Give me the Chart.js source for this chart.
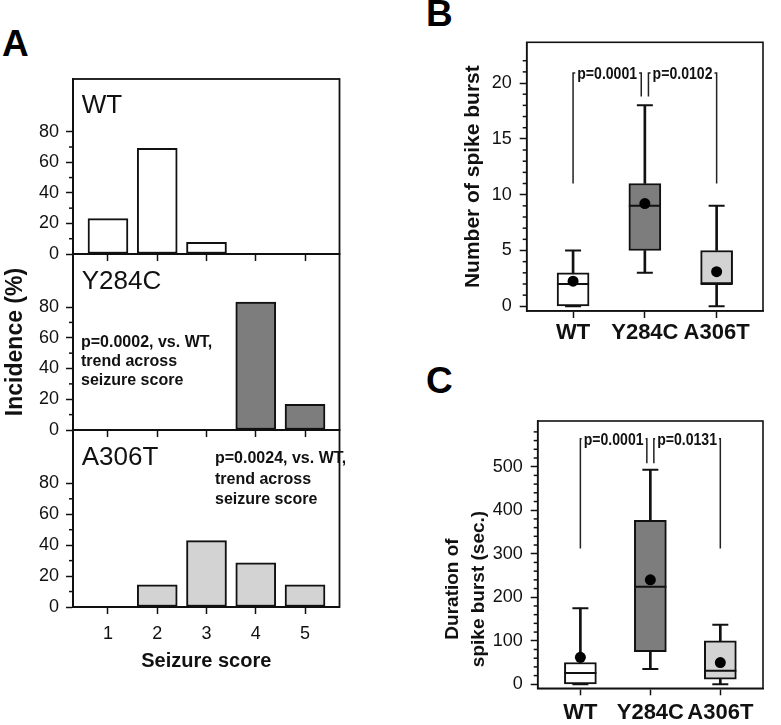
<!DOCTYPE html>
<html><head><meta charset="utf-8">
<script src="https://cdn.jsdelivr.net/npm/chart.js@4.4.0/dist/chart.umd.min.js"></script>
<style>
body{margin:0;background:#fff;width:781px;height:725px;position:relative;overflow:hidden;font-family:"Liberation Sans",Arial,sans-serif}
canvas{position:absolute}
.lbl{position:absolute;font-weight:bold;font-size:37px;line-height:37px;color:#000;font-family:"Liberation Sans",Arial,sans-serif}
</style></head><body>
<div class="lbl" style="left:2px;top:25px">A</div>
<div class="lbl" style="left:426px;top:-5px">B</div>
<div class="lbl" style="left:426px;top:362px">C</div>
<canvas id="cA1" width="345" height="262" style="left:0;top:0"></canvas>
<canvas id="cA2" width="345" height="438" style="left:0;top:0"></canvas>
<canvas id="cA3" width="345" height="680" style="left:0;top:0"></canvas>
<canvas id="cB" width="341" height="350" style="left:440px;top:0"></canvas>
<canvas id="cC" width="341" height="365" style="left:440px;top:360px"></canvas>
<script>
// ---------- data ----------
const scores = [1, 2, 3, 4, 5];
const wtIncidence = [23.1, 69.2, 7.7, 0, 0];
const y284cIncidence = [0, 0, 0, 83.3, 16.7];
const a306tIncidence = [0, 14.3, 42.9, 28.6, 14.3];
const incidenceTicks = [0, 20, 40, 60, 80];
const incidenceMinor = [10, 30, 50, 70];

const groups = ['WT', 'Y284C', 'A306T'];
const groupColors = ['#ffffff', '#7d7d7d', '#d3d3d3'];

const burstMin = [0, 3, 0];
const burstQ1 = [0, 5, 2];
const burstMedian = [2, 9, 2];
const burstQ3 = [3, 11, 5];
const burstMax = [5, 18, 9];
const burstMean = [2.25, 9.2, 3.1];
const burstTicks = [0, 5, 10, 15, 20];
const burstMinor = [1,2,3,4,6,7,8,9,11,12,13,14,16,17,18,19,21,22];
const burstPairs = [[0, 1], [1, 2]];
const burstP = ['p=0.0001', 'p=0.0102'];
const burstBracketTop = 20.9;
const burstBracketEnds = [[11, 18.8], [18.8, 11]];

const durMin = [0, 35, 0];
const durQ1 = [0, 75, 12];
const durMedian = [26, 224, 31];
const durQ3 = [50, 377, 100];
const durMax = [175, 493, 137];
const durMean = [62, 240, 50];
const durTicks = [0, 100, 200, 300, 400, 500];
const durMinor = [20,40,60,80,120,140,160,180,220,240,260,280,320,340,360,380,420,440,460,480,520,540,560,580];
const durPairs = [[0, 1], [1, 2]];
const durP = ['p=0.0001', 'p=0.0131'];
const durBracketTop = 564;
const durBracketEnds = [[312, 508], [508, 312]];

// ---------- helpers / plugins ----------
const FAM = '"Liberation Sans", Arial, sans-serif';
Chart.defaults.font.family = FAM;
Chart.defaults.color = '#111';
const INK = '#111';

function drawText(ctx, text, x, y, font, align, baseline, sx, rot) {
  ctx.save();
  ctx.font = font; ctx.fillStyle = INK; ctx.textAlign = align; ctx.textBaseline = baseline;
  ctx.translate(x, y);
  if (rot) ctx.rotate(rot);
  ctx.scale(sx || 1, 1);
  ctx.fillText(text, 0, 0);
  ctx.restore();
}

const framePlugin = {
  id: 'frame',
  afterDraw(chart, args, o) {
    const {ctx, chartArea: a} = chart;
    ctx.save(); ctx.strokeStyle = INK; ctx.lineWidth = o.width || 1.8;
    ctx.strokeRect(a.left, a.top, a.right - a.left, a.bottom - a.top);
    ctx.restore();
  }
};
const minorPlugin = {
  id: 'minorTicks',
  afterDraw(chart, args, o) {
    if (!o.values) return;
    const y = chart.scales.y, a = chart.chartArea, ctx = chart.ctx;
    ctx.save(); ctx.strokeStyle = INK; ctx.lineWidth = 1.5;
    o.values.forEach(v => {
      const py = y.getPixelForValue(v);
      ctx.beginPath(); ctx.moveTo(a.left - (o.length || 4), py); ctx.lineTo(a.left, py); ctx.stroke();
    });
    ctx.restore();
  }
};
const annotPlugin = {
  id: 'annot',
  afterDraw(chart, args, o) {
    if (!o.items) return;
    const a = chart.chartArea, ctx = chart.ctx;
    o.items.forEach(it => drawText(ctx, it.text, a.left + it.dx, a.top + it.dy, it.font,
      it.align || 'left', it.baseline || 'alphabetic', it.sx || 1, it.rot || 0));
  }
};
const bracketPlugin = {
  id: 'brackets',
  afterDraw(chart, args, o) {
    if (!o.pairs) return;
    const xs = chart.scales.x, ys = chart.scales.y, ctx = chart.ctx;
    const font = 'bold 16px ' + FAM, sx = 0.88;
    ctx.save(); ctx.strokeStyle = '#222'; ctx.lineWidth = 1.5;
    o.pairs.forEach((p, i) => {
      const off = o.offsets[i];
      const x1 = xs.getPixelForValue(p[0] + off[0]), x2 = xs.getPixelForValue(p[1] + off[1]);
      const yt = ys.getPixelForValue(o.top);
      const y1 = ys.getPixelForValue(o.ends[i][0]), y2 = ys.getPixelForValue(o.ends[i][1]);
      ctx.font = font;
      const w = ctx.measureText(o.texts[i]).width * sx;
      const cx = (x1 + x2) / 2;
      ctx.beginPath();
      ctx.moveTo(x1, y1); ctx.lineTo(x1, yt); ctx.lineTo(cx - w / 2 - 2, yt);
      ctx.moveTo(cx + w / 2 + 2, yt); ctx.lineTo(x2, yt); ctx.lineTo(x2, y2);
      ctx.stroke();
      drawText(ctx, o.texts[i], cx, yt + 1.5, font, 'center', 'middle', sx);
    });
    ctx.restore();
  }
};
function noPad(s) { s.paddingTop = 0; s.paddingBottom = 0; }

// ---------- panel A ----------
function incidenceChart(id, name, values, color, top, bottom, canvasH, extra) {
  const items = [{text: name, dx: 8.7, dy: extra.nameDy, font: '26px ' + FAM}];
  (extra.notes || []).forEach((t, i) => items.push({text: t, dx: extra.noteDx, dy: extra.noteDy + i * extra.noteGap, font: 'bold 16px ' + FAM}));
  return new Chart(document.getElementById(id), {
    type: 'bar',
    data: {datasets: [{
      data: scores.map((s, i) => ({x: s, y: values[i]})),
      backgroundColor: color, borderColor: INK, borderWidth: 2, borderSkipped: false,
      barThickness: 40, grouped: false
    }]},
    options: {
      responsive: false, animation: false, events: [], devicePixelRatio: 1,
      layout: {padding: {left: 0, top: top, right: 5.5, bottom: 0}},
      plugins: {legend: {display: false}, tooltip: {enabled: false},
        frame: {width: 1.8}, minorTicks: {values: incidenceMinor, length: 4}, annot: {items}},
      scales: {
        x: {type: 'linear', min: 0.29, max: 5.7, offset: false,
          afterBuildTicks: ax => { ax.ticks = scores.map(v => ({value: v})); },
          afterFit: s => { s.height = canvasH - bottom; s.paddingLeft = 0; s.paddingRight = 0; },
          grid: {display: true, offset: false, drawOnChartArea: false, tickLength: 7, tickColor: INK, tickWidth: 1.5},
          border: {display: true, color: INK, width: 2},
          ticks: {font: {size: 18}, color: INK, padding: 9.5, maxRotation: 0,
            callback: v => extra.xLabels ? String(v) : ''},
          title: extra.xTitle ? {display: true, text: extra.xTitle, font: {size: 20, weight: 'bold'}, color: INK, padding: {top: 0, bottom: 7}} : {display: false}
        },
        y: {min: 0, max: 114.5,
          afterBuildTicks: ax => { ax.ticks = incidenceTicks.map(v => ({value: v})); },
          afterFit: s => { s.width = 73; noPad(s); },
          grid: {display: true, drawOnChartArea: false, tickLength: 7, tickColor: INK, tickWidth: 1.5},
          border: {display: true, color: INK, width: 2},
          ticks: {font: {size: 18}, color: INK, padding: 7},
          title: extra.yTitle ? {display: true, text: extra.yTitle, font: {size: 23, weight: 'bold'}, color: INK, padding: {top: 2, bottom: 0}} : {display: false}
        }
      }
    },
    plugins: [framePlugin, minorPlugin, annotPlugin]
  });
}

incidenceChart('cA1', 'WT', wtIncidence, '#ffffff', 79, 254, 262, {nameDy: 34.3});
incidenceChart('cA2', 'Y284C', y284cIncidence, '#7d7d7d', 254, 430, 438, {
  nameDy: 35.3, yTitle: 'Incidence (%)',
  notes: ['p=0.0002, vs. WT,', 'trend across', 'seizure score'], noteDx: 8, noteDy: 92.7, noteGap: 19.3});
incidenceChart('cA3', 'A306T', a306tIncidence, '#d3d3d3', 430, 607, 680, {
  nameDy: 35, xLabels: true, xTitle: 'Seizure score',
  notes: ['p=0.0024, vs. WT,', 'trend across', 'seizure score'], noteDx: 142, noteDy: 33.3, noteGap: 20.5});

// ---------- panels B and C ----------
function boxChart(id, d, cfg) {
  const pts = arr => arr.map((v, i) => ({x: i, y: v}));
  const rng = (a, b) => a.map((v, i) => ({x: i, y: [v, b[i]]}));
  return new Chart(document.getElementById(id), {
    type: 'bar',
    data: {datasets: [
      {type: 'bar', data: rng(d.min, d.q1), backgroundColor: INK, barThickness: 2, grouped: false, order: 5},
      {type: 'bar', data: rng(d.q3, d.max), backgroundColor: INK, barThickness: 2, grouped: false, order: 5},
      {type: 'bar', data: rng(d.q1, d.q3), backgroundColor: groupColors, borderColor: INK, borderWidth: 2,
        borderSkipped: false, barThickness: 32, grouped: false, order: 4},
      {type: 'scatter', data: pts(d.min).concat(pts(d.max)), pointStyle: 'line', pointRadius: 8,
        pointBorderWidth: 2, pointBorderColor: INK, order: 3},
      {type: 'scatter', data: pts(d.median), pointStyle: 'line', pointRadius: 16,
        pointBorderWidth: 2, pointBorderColor: INK, order: 2},
      {type: 'scatter', data: pts(d.mean), pointStyle: 'circle', pointRadius: 5.5,
        pointBackgroundColor: '#000', pointBorderWidth: 0, order: 1}
    ]},
    options: {
      responsive: false, animation: false, events: [], devicePixelRatio: 1,
      layout: {padding: {left: 0, top: cfg.top, right: 3, bottom: 0}},
      plugins: {legend: {display: false}, tooltip: {enabled: false},
        frame: {width: 1.6}, minorTicks: {values: d.minor, length: 4},
        brackets: {pairs: d.pairs, texts: d.p, top: d.bracketTop, ends: d.bracketEnds, offsets: [[0, -0.05], [0.05, 0]]},
        annot: {items: cfg.annot || []}},
      scales: {
        x: {type: 'linear', min: -cfg.xPad, max: 2 + cfg.xPad, offset: false,
          afterBuildTicks: ax => { ax.ticks = groups.map((g, i) => ({value: i})); },
          afterFit: s => { s.height = cfg.xHeight; s.paddingLeft = 0; s.paddingRight = 0; },
          grid: {display: true, offset: false, drawOnChartArea: false, tickLength: 7, tickColor: INK, tickWidth: 1.5},
          border: {display: true, color: INK, width: 1.6},
          ticks: {font: {size: cfg.xFont, weight: 'bold'}, color: INK, padding: cfg.xLabelPad, maxRotation: 0,
            autoSkip: false, callback: v => groups[v] !== undefined ? groups[v] : ''}
        },
        y: {min: cfg.yMin, max: cfg.yMax,
          afterBuildTicks: ax => { ax.ticks = d.ticks.map(v => ({value: v})); },
          afterFit: s => { s.width = cfg.yWidth; noPad(s); },
          grid: {display: true, drawOnChartArea: false, tickLength: 7, tickColor: INK, tickWidth: 1.5},
          border: {display: true, color: INK, width: 1.6},
          ticks: {font: {size: 18}, color: INK, padding: 8},
          title: cfg.yTitle ? {display: true, text: cfg.yTitle, font: {size: 21, weight: 'bold'}, color: INK, padding: {top: 21, bottom: 0}} : {display: false}
        }
      }
    },
    plugins: [framePlugin, minorPlugin, bracketPlugin, annotPlugin]
  });
}

boxChart('cB', {min: burstMin, q1: burstQ1, median: burstMedian, q3: burstQ3, max: burstMax, mean: burstMean,
  ticks: burstTicks, minor: burstMinor, pairs: burstPairs, p: burstP, bracketTop: burstBracketTop, bracketEnds: burstBracketEnds},
  {top: 42.3, xHeight: 39, yWidth: 86.7, yMin: -0.42, yMax: 23.65, xPad: 0.646, xFont: 22, xLabelPad: 2,
   yTitle: 'Number of spike burst'});

boxChart('cC', {min: durMin, q1: durQ1, median: durMedian, q3: durQ3, max: durMax, mean: durMean,
  ticks: durTicks, minor: durMinor, pairs: durPairs, p: durP, bracketTop: durBracketTop, bracketEnds: durBracketEnds},
  {top: 61, xHeight: 36.7, yWidth: 97.7, yMin: -9.2, yMax: 605, xPad: 0.61, xFont: 22, xLabelPad: 4,
   annot: [
     {text: 'Duration of', dx: -84.7, dy: 168, font: 'bold 19px ' + FAM, align: 'center', baseline: 'middle', rot: -Math.PI / 2},
     {text: 'spike burst (sec.)', dx: -58.9, dy: 168, font: 'bold 19px ' + FAM, align: 'center', baseline: 'middle', rot: -Math.PI / 2}
   ]});
</script>
</body></html>
